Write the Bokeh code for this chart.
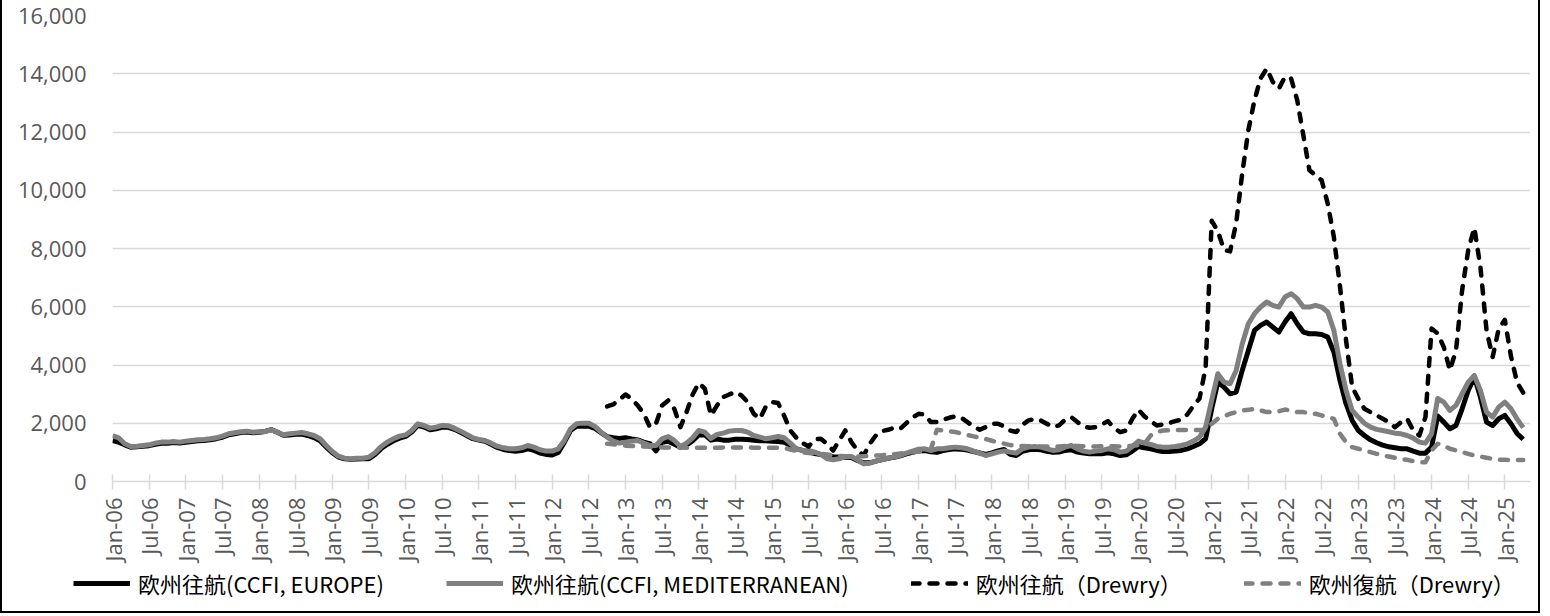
import math
from bokeh.plotting import figure
from bokeh.layouts import column
from bokeh.models import ColumnDataSource, FixedTicker, Legend, LegendItem, NumeralTickFormatter
from bokeh.embed import file_html
from bokeh.resources import INLINE

# ---------------- data (monthly, Jan-06 .. Apr-25) ----------------
start_year = 2006
month_abbr = ["Jan", "Feb", "Mar", "Apr", "May", "Jun", "Jul", "Aug", "Sep", "Oct", "Nov", "Dec"]

series_names = [
    "欧州往航(CCFI, EUROPE)",
    "欧州往航(CCFI, MEDITERRANEAN)",
    "欧州往航（Drewry）",
    "欧州復航（Drewry）",
]

ccfi_europe = [
    1410, 1350, 1260, 1180, 1190, 1210, 1230, 1280, 1310, 1310, 1340, 1320,   # 2006
    1350, 1370, 1400, 1410, 1430, 1470, 1520, 1600, 1640, 1680, 1700, 1670,   # 2007
    1690, 1720, 1780, 1690, 1590, 1600, 1620, 1630, 1580, 1510, 1400, 1180,   # 2008
    990, 840, 780, 760, 770, 780, 780, 930, 1130, 1280, 1400, 1490,           # 2009
    1550, 1700, 1930, 1870, 1780, 1810, 1870, 1860, 1790, 1690, 1580, 1470,   # 2010
    1420, 1380, 1280, 1170, 1100, 1060, 1040, 1060, 1120, 1070, 980, 930,     # 2011
    910, 1000, 1350, 1750, 1900, 1900, 1900, 1820, 1680, 1540, 1500, 1480,    # 2012
    1500, 1460, 1430, 1350, 1300, 1050, 1350, 1380, 1280, 1180, 1250, 1400,   # 2013
    1600, 1600, 1420, 1460, 1420, 1420, 1450, 1450, 1440, 1420, 1400, 1400,   # 2014
    1380, 1370, 1350, 1240, 1120, 1070, 1020, 960, 930, 880, 850, 840,        # 2015
    830, 820, 720, 640, 640, 700, 750, 800, 830, 880, 950, 1000,              # 2016
    1050, 1060, 1020, 1000, 1060, 1100, 1120, 1110, 1080, 1030, 980, 930,     # 2017
    980, 1050, 1100, 930, 890, 1040, 1090, 1110, 1090, 1040, 1000, 1010,      # 2018
    1066, 1089, 1008, 974, 951, 951, 951, 985, 951, 893, 916, 1043,           # 2019
    1203, 1157, 1123, 1066, 1031, 1031, 1043, 1066, 1123, 1203, 1294, 1466,   # 2020
    2500, 3413, 3241, 3012, 3070, 3814, 4501, 5188, 5360, 5474, 5302, 5131,   # 2021
    5474, 5762, 5418, 5131, 5074, 5074, 5050, 4958, 4444, 3470, 2669, 2096,   # 2022
    1752, 1580, 1430, 1330, 1250, 1190, 1157, 1123, 1123, 1043, 974, 974,     # 2023
    1180, 2250, 2039, 1810, 1924, 2497, 3127, 3585, 2898, 2039, 1924, 2154,   # 2024
    2268, 1982, 1650, 1450,                                                   # 2025
]

ccfi_med = [
    1580, 1500, 1294, 1203, 1214, 1237, 1260, 1317, 1352, 1352, 1375, 1352,   # 2006
    1386, 1409, 1432, 1443, 1466, 1500, 1558, 1638, 1672, 1706, 1729, 1695,   # 2007
    1706, 1718, 1775, 1695, 1603, 1638, 1661, 1683, 1638, 1580, 1466, 1237,   # 2008
    1030, 870, 801, 778, 801, 801, 836, 985, 1203, 1352, 1466, 1558,          # 2009
    1600, 1752, 1981, 1924, 1832, 1866, 1924, 1912, 1832, 1729, 1615, 1500,   # 2010
    1443, 1409, 1317, 1214, 1157, 1123, 1123, 1157, 1237, 1180, 1089, 1043,   # 2011
    1043, 1123, 1409, 1809, 1981, 2004, 2004, 1890, 1695, 1523, 1386, 1317,   # 2012
    1352, 1386, 1409, 1317, 1237, 1237, 1466, 1546, 1409, 1203, 1317, 1500,   # 2013
    1752, 1695, 1480, 1615, 1660, 1730, 1752, 1752, 1695, 1580, 1523, 1466,   # 2014
    1500, 1546, 1500, 1317, 1122, 1065, 1065, 1008, 928, 779, 745, 779,       # 2015
    859, 859, 745, 607, 630, 699, 745, 802, 836, 893, 974, 1043,              # 2016
    1111, 1122, 1065, 1122, 1122, 1157, 1180, 1157, 1122, 1043, 974, 893,     # 2017
    951, 1008, 1050, 1008, 974, 1123, 1180, 1203, 1180, 1123, 1066, 1089,     # 2018
    1180, 1237, 1123, 1043, 1008, 1043, 1066, 1123, 1089, 1008, 1043, 1203,   # 2019
    1386, 1317, 1271, 1203, 1180, 1180, 1203, 1237, 1294, 1386, 1523, 1867,   # 2020
    2800, 3700, 3413, 3356, 3814, 4730, 5418, 5762, 5990, 6162, 6048, 5990,   # 2021
    6334, 6449, 6277, 5990, 5990, 6048, 5990, 5818, 5188, 4044, 3127, 2440,   # 2022
    2211, 2000, 1867, 1790, 1752, 1710, 1660, 1638, 1580, 1490, 1351, 1317,   # 2023
    1638, 2850, 2726, 2440, 2612, 3012, 3413, 3642, 3127, 2382, 2211, 2555,   # 2024
    2726, 2497, 2150, 1850,                                                   # 2025
]

drewry_start = 81  # Drewry series begin Oct-12
drewry_out = [
    2577, 2646, 2806,                                                         # 2012 Oct-Dec
    2989, 2841, 2612, 2325, 1867, 1982, 2612, 2783, 2497, 1867, 2382, 2989,   # 2013
    3379, 3184, 2268, 2612, 2898, 2989, 3070, 2955, 2726, 2325, 2153, 2577,   # 2014
    2726, 2692, 2250, 1750, 1500, 1317, 1203, 1450, 1466, 1294, 1065, 1409,   # 2015
    1752, 1352, 1065, 893, 1294, 1581, 1730, 1775, 1844, 1810, 2005, 2188,    # 2016
    2326, 2303, 2039, 2039, 2119, 2188, 2234, 2188, 2039, 1890, 1775, 1867,   # 2017
    1982, 1982, 1900, 1750, 1700, 1950, 2100, 2140, 2096, 1982, 1867, 1925,   # 2018
    2120, 2211, 2039, 1890, 1844, 1867, 1958, 2074, 1844, 1695, 1752, 2153,   # 2019
    2463, 2234, 2074, 1925, 1958, 2005, 2074, 2120, 2300, 2600, 2850, 3900,   # 2020
    8950, 8600, 7950, 7900, 8865, 10584, 12060, 13091, 13837, 14180, 13720, 13493,  # 2021
    13894, 13837, 13091, 11889, 10687, 10514, 10342, 9540, 8395, 6700, 4845, 3241,  # 2022
    2840, 2497, 2382, 2268, 2154, 2039, 1866, 2039, 2154, 1752, 1580, 2210,   # 2023
    5250, 5085, 4615, 3814, 4501, 6563, 7937, 8716, 7364, 5188, 4272, 5246,   # 2024
    5550, 4300, 3400, 3050,                                                   # 2025
]

drewry_ret = [
    1300, 1280, 1250,                                                         # 2012 Oct-Dec
    1230, 1220, 1210, 1200, 1190, 1180, 1170, 1170, 1170, 1170, 1160, 1160,   # 2013
    1160, 1160, 1160, 1160, 1170, 1170, 1170, 1170, 1170, 1160, 1160, 1160,   # 2014
    1160, 1160, 1150, 1100, 1050, 1000, 980, 960, 950, 930, 900, 880,         # 2015
    870, 860, 860, 870, 880, 890, 900, 920, 940, 960, 980, 1000,              # 2016
    1030, 1050, 1100, 1780, 1750, 1720, 1700, 1650, 1600, 1550, 1500, 1460,   # 2017
    1400, 1340, 1300, 1250, 1230, 1220, 1210, 1200, 1200, 1200, 1200, 1200,   # 2018
    1220, 1230, 1220, 1210, 1200, 1200, 1210, 1220, 1210, 1200, 1210, 1230,   # 2019
    1250, 1300, 1580, 1700, 1750, 1760, 1770, 1770, 1770, 1770, 1770, 1770,   # 2020
    1982, 2153, 2234, 2325, 2382, 2440, 2460, 2497, 2440, 2382, 2382, 2410,   # 2021
    2470, 2440, 2382, 2382, 2350, 2325, 2268, 2211, 2153, 1638, 1350, 1180,   # 2022
    1123, 1066, 1008, 951, 893, 859, 813, 779, 744, 698, 664, 664,            # 2023
    1066, 1294, 1237, 1123, 1066, 1008, 951, 893, 859, 813, 779, 744,         # 2024
    744, 740, 740, 740,                                                       # 2025
]

y_ticks = [0, 2000, 4000, 6000, 8000, 10000, 12000, 14000, 16000]

# ---------------- build ----------------
n = len(ccfi_europe)
xs = list(range(n))
month_labels = [f"{month_abbr[i % 12]}-{(start_year + i // 12) % 100:02d}" for i in range(n)]
x_tick_idx = list(range(0, n, 6))

nan = float("nan")
d_out_full = [nan] * drewry_start + drewry_out
d_ret_full = [nan] * drewry_start + drewry_ret

src = ColumnDataSource(dict(x=xs, eu=ccfi_europe, med=ccfi_med, dout=d_out_full, dret=d_ret_full))

styles = [
    dict(line_color="#000000", line_width=5, line_join="round"),
    dict(line_color="#808080", line_width=5, line_join="round"),
    dict(line_color="#000000", line_width=4.5, line_dash="8 10", line_cap="round", line_join="round"),
    dict(line_color="#808080", line_width=4.5, line_dash="8 10", line_cap="round", line_join="round"),
]

W = 1536
p = figure(
    width=W, height=566,
    x_range=(0, 232.2), y_range=(0, 16000),
    output_backend="svg", toolbar_location=None,
    min_border_left=110, min_border_right=8, min_border_top=15, min_border_bottom=85,
)
p.outline_line_color = None
p.background_fill_color = "white"
p.border_fill_color = "white"

p.xgrid.visible = False
p.ygrid.grid_line_color = "#D9D9D9"
p.ygrid.grid_line_width = 1.5

p.yaxis.ticker = FixedTicker(ticks=y_ticks)
p.yaxis.formatter = NumeralTickFormatter(format="0,0")
p.yaxis.axis_line_color = None
p.yaxis.major_tick_line_color = None
p.yaxis.minor_tick_line_color = None
p.yaxis.major_label_text_font = "Open Sans"
p.yaxis.major_label_text_font_size = "22px"
p.yaxis.major_label_text_color = "#595959"
p.yaxis.major_label_standoff = 20

p.xaxis.ticker = FixedTicker(ticks=x_tick_idx)
p.xaxis.major_label_overrides = {i: month_labels[i] for i in x_tick_idx}
p.xaxis.major_label_orientation = math.pi / 2
p.xaxis.axis_line_color = "#D9D9D9"
p.xaxis.axis_line_width = 1.5
p.xaxis.major_tick_line_color = "#D9D9D9"
p.xaxis.major_tick_line_width = 1.5
p.xaxis.major_tick_in = 7
p.xaxis.major_tick_out = 8
p.xaxis.minor_tick_line_color = None
p.xaxis.major_label_text_font = "Open Sans"
p.xaxis.major_label_text_font_size = "22px"
p.xaxis.major_label_text_color = "#595959"
p.xaxis.major_label_standoff = 8

p.line("x", "eu", source=src, **styles[0])
p.line("x", "med", source=src, **styles[1])
p.line("x", "dout", source=src, **styles[2])
p.line("x", "dret", source=src, **styles[3])

# ---- legend strip (separate canvas so it can sit left of the plot frame) ----
leg = figure(
    width=W, height=45, x_range=(0, 1), y_range=(0, 1),
    output_backend="svg", toolbar_location=None, min_border=0,
)
leg.axis.visible = False
leg.grid.visible = False
leg.outline_line_color = None
aligned = True
if "frame_align" in leg.properties():
    leg.frame_align = False
    p.frame_align = False
    aligned = False
leg_src = ColumnDataSource(dict(x=[nan], y=[nan]))
leg_renderers = [leg.line("x", "y", source=leg_src, **s) for s in styles]

legend = Legend(
    items=[LegendItem(label=series_names[i], renderers=[leg_renderers[i]]) for i in range(4)],
    orientation="horizontal", location=(71 if not aligned else 0, 12),
    glyph_width=57, glyph_height=22, label_standoff=8, spacing=62,
    padding=0, margin=0, border_line_color=None, background_fill_alpha=0,
    label_text_font="Noto Sans CJK JP", label_text_font_size="22px",
    label_text_color="#000000",
)
leg.add_layout(legend, "center")

layout = column(p, leg, styles={"border-left": "2px solid #000", "border-right": "2px solid #000",
                                "border-bottom": "2px solid #000"})

open("out.html", "w").write(file_html(layout, INLINE))
